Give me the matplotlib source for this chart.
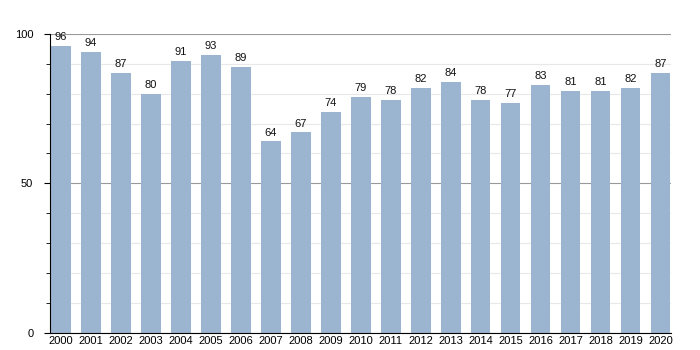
import matplotlib.pyplot as plt
from matplotlib.ticker import MultipleLocator

plt.rcParams["font.family"] = ["Liberation Sans", "DejaVu Sans"]

years = [str(y) for y in range(2000, 2021)]
values = [96, 94, 87, 80, 91, 93, 89, 64, 67, 74, 79, 78, 82, 84, 78, 77, 83, 81, 81, 82, 87]

bar_color = "#9bb4cf"

fig = plt.figure(figsize=(7, 3.5), dpi=100)
ax = fig.add_axes([0.0714, 0.0486, 0.887, 0.855])

x = list(range(len(years)))
bars = ax.bar(x, values, width=0.66, color=bar_color, zorder=2)

# value labels above each bar
for xi, v in zip(x, values):
    ax.text(xi, v + 1.2, str(v), ha="center", va="bottom", fontsize=8, color="#111111", zorder=3)

ax.set_xlim(-0.37, 20.35)
ax.set_ylim(0, 100)
ax.set_xticks(x)
ax.set_xticklabels(years, fontsize=8)
ax.set_yticks([0, 50, 100])
ax.set_yticklabels(["0", "50", "100"], fontsize=8)
ax.yaxis.set_minor_locator(MultipleLocator(10))

ax.grid(axis="y", which="major", color="#999999", linewidth=0.8, zorder=0)
ax.grid(axis="y", which="minor", color="#e8e8e8", linewidth=0.8, zorder=0)
ax.set_axisbelow(True)

for side in ["top", "right"]:
    ax.spines[side].set_visible(False)
ax.spines["left"].set_linewidth(0.8)
ax.spines["bottom"].set_linewidth(0.8)
ax.tick_params(axis="x", length=0, pad=2)
ax.tick_params(axis="y", which="major", length=4, pad=8)
ax.tick_params(axis="y", which="minor", length=3)

fig.savefig("out.png", dpi=100)
